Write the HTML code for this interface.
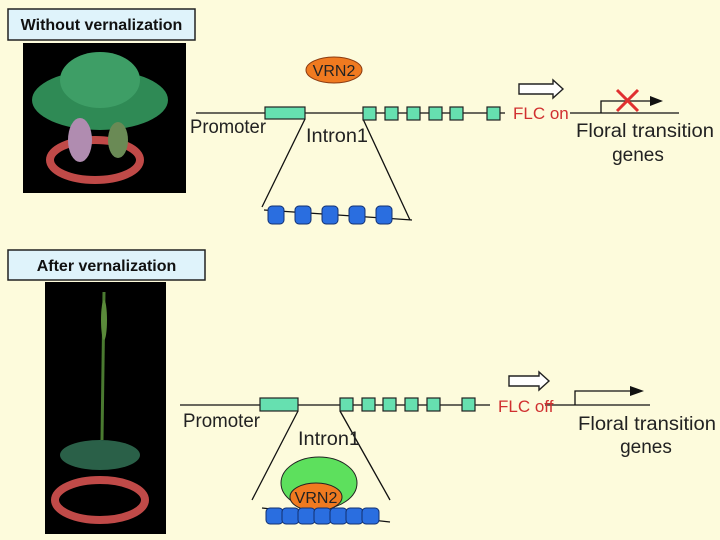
<!DOCTYPE html>
<html><head><style>
html,body{margin:0;padding:0;background:#fdfbdc;}
svg{display:block}
text{font-family:"Liberation Sans",sans-serif;}
</style></head><body>
<svg width="720" height="540" viewBox="0 0 720 540">
<rect width="720" height="540" fill="#fdfbdc"/>
<rect x="8" y="9" width="187" height="31" fill="#dff3fb" stroke="#222" stroke-width="1.5"/>
<text x="101.5" y="30" font-size="16" font-weight="bold" text-anchor="middle" fill="#111">Without vernalization</text>
<rect x="8" y="250" width="197" height="30" fill="#dff3fb" stroke="#222" stroke-width="1.5"/>
<text x="106.5" y="271" font-size="16" font-weight="bold" text-anchor="middle" fill="#111">After vernalization</text>
<rect x="23" y="43" width="163" height="150" fill="#000"/>
<ellipse cx="95" cy="160" rx="45" ry="20" fill="none" stroke="#c04a48" stroke-width="8"/>
<ellipse cx="100" cy="100" rx="68" ry="30" fill="#2f8a55"/>
<ellipse cx="100" cy="80" rx="40" ry="28" fill="#3e9e66"/>
<ellipse cx="80" cy="140" rx="12" ry="22" fill="#b08cb0"/>
<ellipse cx="118" cy="140" rx="10" ry="18" fill="#6a8a55"/>
<rect x="45" y="282" width="121" height="252" fill="#000"/>
<line x1="104" y1="292" x2="102" y2="440" stroke="#4a7a30" stroke-width="3"/>
<ellipse cx="100" cy="500" rx="45" ry="20" fill="none" stroke="#c04a48" stroke-width="8"/>
<ellipse cx="100" cy="455" rx="40" ry="15" fill="#2a6048"/>
<ellipse cx="104" cy="320" rx="3" ry="20" fill="#5a8a3a"/>

<g stroke="#111" stroke-width="1.3" fill="none">
<line x1="196" y1="113" x2="505" y2="113"/>
<line x1="305" y1="119" x2="262" y2="207"/>
<line x1="363" y1="119" x2="410" y2="220"/>
<line x1="264" y1="210" x2="412" y2="220"/>
<line x1="570" y1="113" x2="679" y2="113"/>
<polyline points="601,113 601,101 652,101"/>
<line x1="180" y1="405" x2="490" y2="405"/>
<line x1="298" y1="411" x2="252" y2="500"/>
<line x1="340" y1="411" x2="390" y2="500"/>
<line x1="262" y1="508" x2="390" y2="522"/>
<line x1="545" y1="405" x2="650" y2="405"/>
<polyline points="575,405 575,391 632,391"/>
</g>
<polygon points="650,96 663,101 650,106" fill="#111"/>
<polygon points="630,386 644,391 630,396" fill="#111"/>
<g fill="#66e0b0" stroke="#222" stroke-width="1.2">
<rect x="265" y="107" width="40" height="12"/>
<rect x="363" y="107" width="13" height="13"/>
<rect x="385" y="107" width="13" height="13"/>
<rect x="407" y="107" width="13" height="13"/>
<rect x="429" y="107" width="13" height="13"/>
<rect x="450" y="107" width="13" height="13"/>
<rect x="487" y="107" width="13" height="13"/>
<rect x="260" y="398" width="38" height="13"/>
<rect x="340" y="398" width="13" height="13"/>
<rect x="362" y="398" width="13" height="13"/>
<rect x="383" y="398" width="13" height="13"/>
<rect x="405" y="398" width="13" height="13"/>
<rect x="427" y="398" width="13" height="13"/>
<rect x="462" y="398" width="13" height="13"/>
</g>
<polygon points="519,84 553,84 553,80 563,89 553,98 553,94 519,94" fill="#fff" stroke="#222" stroke-width="1.4"/>
<polygon points="509,376 539,376 539,372 549,381 539,390 539,386 509,386" fill="#fff" stroke="#222" stroke-width="1.4"/>
<g stroke="#e03030" stroke-width="3"><line x1="617" y1="90" x2="638" y2="111"/><line x1="638" y1="90" x2="617" y2="111"/></g>
<ellipse cx="334" cy="70" rx="28" ry="13" fill="#f07a20" stroke="#8a3a10" stroke-width="1"/>
<text x="334" y="76" font-size="16" text-anchor="middle" fill="#222">VRN2</text>
<g fill="#2a6ee0" stroke="#123070" stroke-width="1">
<rect x="268" y="206" width="16" height="18" rx="4"/>
<rect x="295" y="206" width="16" height="18" rx="4"/>
<rect x="322" y="206" width="16" height="18" rx="4"/>
<rect x="349" y="206" width="16" height="18" rx="4"/>
<rect x="376" y="206" width="16" height="18" rx="4"/>
</g>
<ellipse cx="319" cy="483" rx="38" ry="26" fill="#5de05d" stroke="#222" stroke-width="1"/>
<ellipse cx="316" cy="497" rx="26" ry="14" fill="#f07a20" stroke="#222" stroke-width="1"/>
<text x="316" y="503" font-size="16" text-anchor="middle" fill="#222">VRN2</text>
<g fill="#2a6ee0" stroke="#123070" stroke-width="1">
<rect x="266" y="508" width="17" height="16" rx="4"/>
<rect x="282" y="508" width="17" height="16" rx="4"/>
<rect x="298" y="508" width="17" height="16" rx="4"/>
<rect x="314" y="508" width="17" height="16" rx="4"/>
<rect x="330" y="508" width="17" height="16" rx="4"/>
<rect x="346" y="508" width="17" height="16" rx="4"/>
<rect x="362" y="508" width="17" height="16" rx="4"/>
</g>
<g font-size="19" fill="#222">
<text x="190" y="133" textLength="76" lengthAdjust="spacingAndGlyphs">Promoter</text>
<text x="306" y="142" textLength="62" lengthAdjust="spacingAndGlyphs">Intron1</text>
<text x="576" y="137" textLength="138" lengthAdjust="spacingAndGlyphs">Floral transition</text>
<text x="638" y="161" text-anchor="middle">genes</text>
<text x="183" y="427" textLength="77" lengthAdjust="spacingAndGlyphs">Promoter</text>
<text x="298" y="445" textLength="62" lengthAdjust="spacingAndGlyphs">Intron1</text>
<text x="578" y="430" textLength="138" lengthAdjust="spacingAndGlyphs">Floral transition</text>
<text x="646" y="453" text-anchor="middle">genes</text>
</g>
<text x="513" y="119" font-size="17" fill="#d03030">FLC on</text>
<text x="498" y="412" font-size="17" fill="#d03030">FLC off</text>
</svg>
</body></html>
